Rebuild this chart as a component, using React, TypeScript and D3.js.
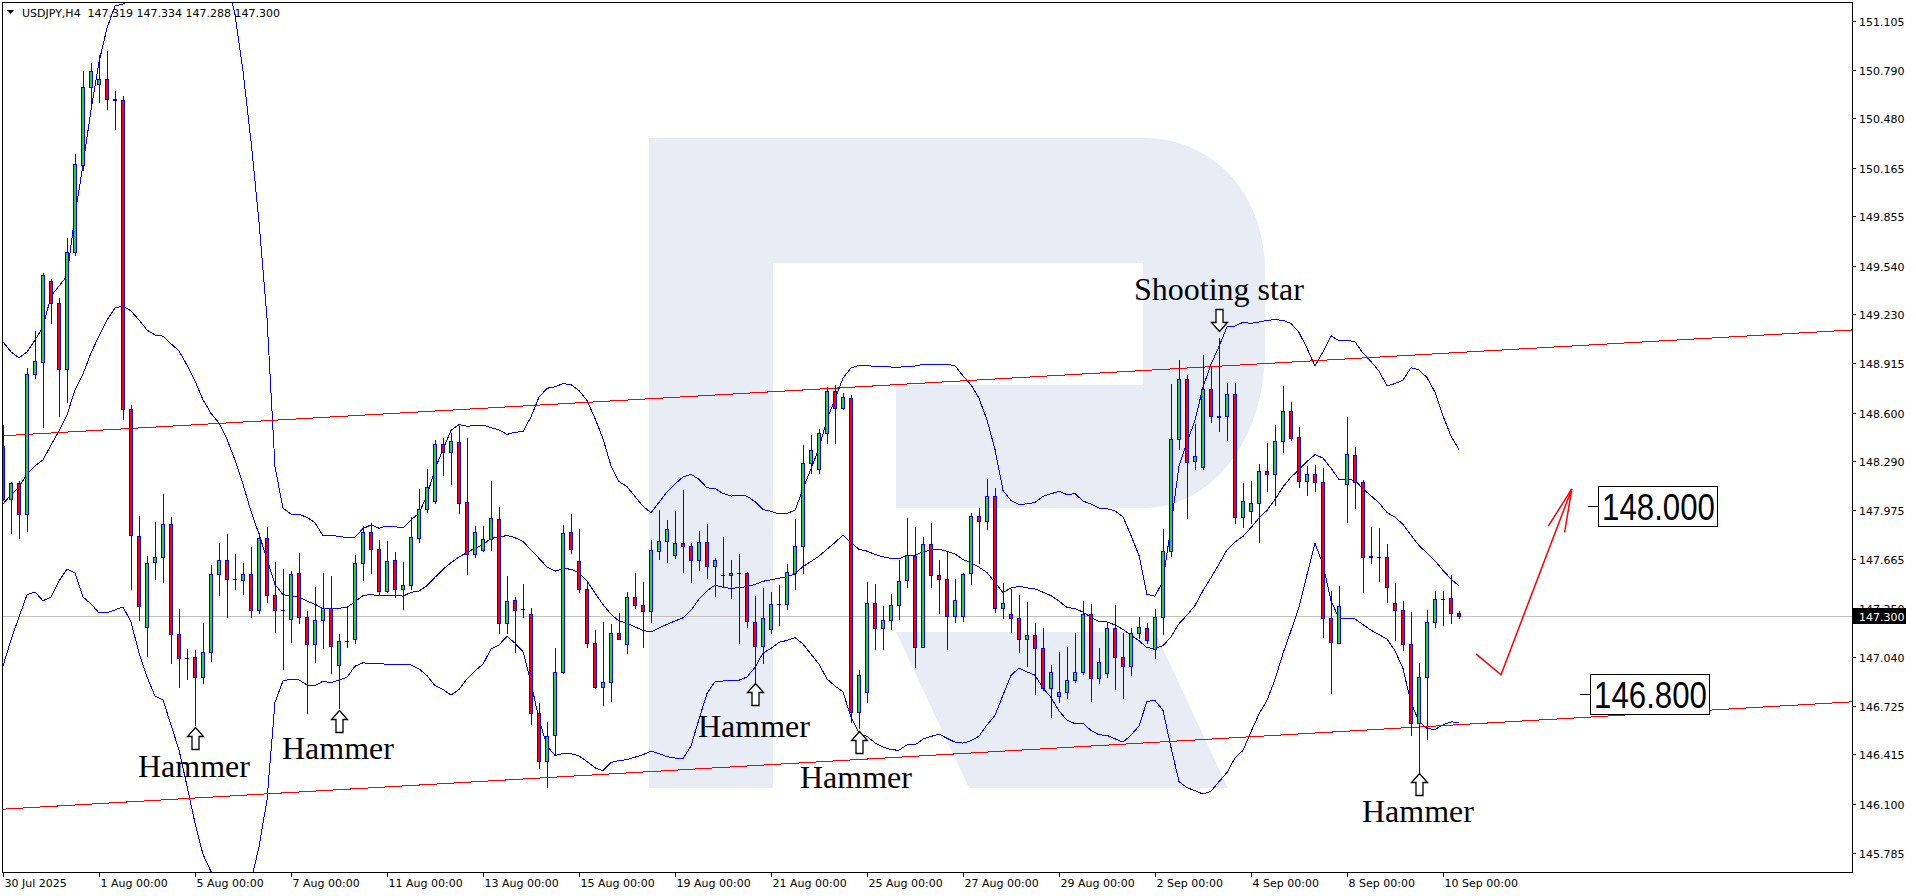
import React from 'react';
import * as d3 from 'd3';

const W = 1916;
const H = 896;

// ---------- DATA (USDJPY H4, bar 0 = 30 Jul 2025 00:00) ----------
const opens = [148.387,148.048,148.151,147.953,148.847,148.924,149.441,149.301,148.879,149.627,150.183,150.681,150.700,150.732,150.604,150.598,148.623,147.812,147.230,147.646,147.678,147.889,147.186,147.032,147.039,146.911,147.071,147.569,147.659,147.537,147.531,147.569,147.339,147.799,147.435,147.339,147.282,147.576,147.294,147.122,147.275,147.352,146.988,147.141,147.154,147.639,147.838,147.729,147.461,147.659,147.473,147.499,147.799,147.984,148.036,148.400,148.349,148.413,148.029,147.697,147.722,147.793,147.921,147.256,147.403,147.345,147.314,146.681,146.374,146.540,146.943,147.838,147.652,147.473,147.128,146.847,146.879,147.192,147.122,147.422,147.371,147.333,147.716,147.780,147.691,147.767,147.748,147.659,147.774,147.620,147.563,147.563,147.576,147.576,147.262,147.109,147.218,147.377,147.377,147.576,147.748,148.278,148.240,148.470,148.739,148.630,148.694,146.687,146.815,147.384,147.224,147.275,147.371,147.531,147.684,147.103,147.761,147.563,147.537,147.301,147.301,147.576,147.940,147.908,148.068,147.352,147.314,147.288,147.154,147.179,147.096,146.841,146.790,146.815,146.892,146.943,147.314,146.905,146.937,147.224,147.039,146.981,147.192,147.224,147.090,147.294,147.716,148.432,148.815,148.290,148.253,148.751,148.579,148.579,148.719,147.933,147.972,148.023,148.227,148.208,148.419,148.611,148.445,148.163,148.208,148.157,147.288,147.128,148.144,148.330,148.157,147.678,147.678,147.678,147.384,147.339,147.122,146.617,146.911,147.262,147.409,147.416,147.319];
const highs = [148.521,148.157,148.163,148.885,149.122,149.493,149.454,149.333,149.716,150.253,150.783,150.834,150.886,150.911,150.656,150.624,148.649,147.940,147.684,147.901,148.080,147.933,147.345,147.090,147.083,147.256,147.627,147.767,147.825,147.697,147.639,147.742,147.831,147.869,147.646,147.601,147.588,147.703,147.333,147.486,147.576,147.556,147.186,147.358,147.691,147.876,147.895,147.786,147.780,147.710,147.646,147.933,148.112,148.240,148.425,148.438,148.470,148.515,148.438,147.876,147.876,148.163,147.997,147.556,147.422,147.505,147.352,146.745,146.623,147.096,147.882,147.953,147.857,147.512,147.211,147.262,147.250,147.320,147.454,147.576,147.518,147.786,147.978,147.914,147.972,148.106,147.767,147.844,147.889,147.671,147.806,147.659,147.697,147.582,147.429,147.480,147.454,147.499,147.633,147.921,148.393,148.457,148.496,148.764,148.777,148.726,148.713,146.956,147.518,147.505,147.365,147.441,147.659,147.927,147.869,147.806,147.895,147.659,147.710,147.537,147.575,147.959,147.991,148.176,148.119,147.512,147.473,147.435,147.390,147.256,147.224,146.988,147.071,147.103,147.192,147.397,147.377,147.096,147.256,147.371,147.192,147.224,147.294,147.256,147.345,147.857,148.783,148.937,148.841,148.528,148.969,148.898,149.077,148.790,148.790,148.151,148.163,148.272,148.406,148.521,148.770,148.668,148.508,148.259,148.266,148.246,147.461,147.492,148.572,148.381,148.170,147.869,147.863,147.761,147.512,147.397,147.326,147.000,147.339,147.461,147.461,147.563,147.334];
const lows = [148.042,147.831,147.799,147.844,148.822,148.508,149.173,148.579,148.668,149.608,150.151,150.566,150.585,150.540,150.413,148.560,147.473,147.275,147.045,147.537,147.518,147.000,146.847,146.898,146.604,146.873,147.013,147.435,147.294,147.473,147.441,147.294,147.320,147.390,147.199,146.962,147.135,147.256,146.681,147.007,147.096,146.937,146.713,147.103,147.128,147.531,147.576,147.435,147.454,147.422,147.345,147.470,147.774,147.965,148.023,148.202,148.144,147.959,147.569,147.678,147.716,147.722,147.192,147.192,147.071,147.294,146.611,146.329,146.208,146.413,146.937,147.703,147.454,147.103,146.841,146.732,146.758,147.154,147.064,147.352,147.103,147.262,147.665,147.646,147.671,147.582,147.518,147.595,147.544,147.429,147.486,147.416,147.128,147.230,146.873,147.000,147.192,147.243,147.345,147.473,147.576,148.215,148.215,148.406,148.406,148.623,146.623,146.585,146.751,147.090,147.090,147.218,147.282,147.486,146.975,147.101,147.486,147.320,147.090,147.262,147.269,147.505,147.639,147.857,147.326,147.288,147.199,147.071,146.981,146.802,146.828,146.655,146.751,146.777,146.879,146.930,146.758,146.873,146.911,146.834,146.777,146.924,147.160,147.128,147.032,147.186,147.684,148.368,147.927,148.240,148.240,148.540,148.483,148.425,147.895,147.869,147.895,147.774,148.100,148.010,148.349,148.425,148.125,148.074,148.100,147.167,146.809,147.125,147.901,147.991,147.454,147.639,147.524,147.390,147.147,147.083,146.540,146.298,146.515,147.230,147.243,147.256,147.288];
const closes = [148.048,148.151,147.953,148.847,148.930,149.480,149.301,148.879,149.627,150.189,150.681,150.783,150.732,150.604,150.598,148.623,147.818,147.365,147.639,147.678,147.889,147.186,147.032,147.030,146.911,147.071,147.569,147.659,147.537,147.535,147.569,147.339,147.799,147.435,147.339,147.337,147.569,147.294,147.122,147.275,147.352,147.109,147.141,147.139,147.639,147.838,147.729,147.461,147.652,147.473,147.499,147.806,147.984,148.125,148.400,148.349,148.419,148.023,147.697,147.838,147.793,147.927,147.256,147.397,147.339,147.343,146.681,146.374,146.534,146.943,147.831,147.729,147.473,147.128,146.847,146.879,147.192,147.154,147.422,147.371,147.333,147.722,147.780,147.857,147.767,147.748,147.659,147.774,147.620,147.659,147.561,147.576,147.574,147.269,147.109,147.288,147.377,147.375,147.582,147.748,148.278,148.361,148.470,148.739,148.630,148.700,146.687,146.924,147.384,147.224,147.275,147.371,147.524,147.691,147.103,147.761,147.563,147.537,147.301,147.403,147.571,147.940,147.908,148.068,147.352,147.384,147.288,147.154,147.179,147.096,146.841,146.943,146.815,146.892,146.943,147.314,146.905,147.007,147.224,147.039,146.981,147.192,147.230,147.147,147.294,147.716,148.432,148.815,148.285,148.323,148.751,148.579,148.572,148.719,147.933,148.036,148.023,148.227,148.208,148.419,148.611,148.438,148.163,148.208,148.157,147.288,147.135,147.365,148.336,148.157,147.678,147.684,147.676,147.486,147.339,147.122,146.617,146.911,147.262,147.409,147.407,147.320,147.300];

// Bollinger band values for the first 19 bars (their 20-bar window starts before the visible data)
const bbUpperHead = [149.052,148.988,148.949,148.988,149.064,149.147,149.346,149.409,149.473,149.863,150.183,150.534,150.841,151.058,151.199,151.211,151.237,151.320,151.346];
const bbMidHead = [148.016,148.074,148.125,148.208,148.259,148.298,148.393,148.483,148.585,148.745,148.847,148.981,149.090,149.192,149.269,149.282,149.250,149.192,149.128];
const bbLowerHead = [146.981,147.147,147.294,147.435,147.454,147.397,147.422,147.524,147.601,147.576,147.422,147.377,147.320,147.320,147.339,147.358,147.262,147.064,146.911];
const bbPeriod = 20;
const bbDev = 2;

const yTickLabels = ['151.105','150.790','150.480','150.165','149.855','149.540','149.230','148.915','148.600','148.290','147.975','147.665','147.350','147.040','146.725','146.415','146.100','145.785'];
const xTickBars = [0,12,24,36,48,60,72,84,96,108,120,132,144,156,168,180];
const xTickLabels = ['30 Jul 2025','1 Aug 00:00','5 Aug 00:00','7 Aug 00:00','11 Aug 00:00','13 Aug 00:00','15 Aug 00:00','19 Aug 00:00','21 Aug 00:00','25 Aug 00:00','27 Aug 00:00','29 Aug 00:00','2 Sep 00:00','4 Sep 00:00','8 Sep 00:00','10 Sep 00:00'];

// channel lines: [bar, price] endpoints
const channelUpper = [[-0.375, 148.451], [231.1, 149.128]];
const channelLower = [[-0.375, 146.064], [231.1, 146.751]];

// pattern annotations
const patternNames = ['Hammer','Hammer','Hammer','Hammer','Hammer','Shooting star'];
const patternArrowBars = [24, 42, 94, 107, 177, 152];
const patternArrowPrices = [146.591, 146.700, 146.873, 146.566, 146.298, 149.122];
const patternArrowDir = ['up','up','up','up','up','down'];
const patternTextBars = [16.875, 34.875, 86.875, 99.625, 169.875, 141.375];
const patternTextPrices = [146.272, 146.387, 146.528, 146.202, 145.984, 149.320];

// forecast arrow path (bar, price)
const forecastBars = [184.125, 187.25, 196.1];
const forecastPrices = [147.058, 146.924, 148.112];

// target levels
const levelValues = [148.000, 146.800];
const levelLabels = ['148.000', '146.800'];
const levelBars = [198.125, 197.125];

const headerSymbol = 'USDJPY,H4';
const headerOHLC = ['147.319', '147.334', '147.288', '147.300'];
const lastPrice = 147.300;
const lastPriceLabel = '147.300';

// ---------- STYLES ----------
const BULL = '#32CD32';
const BEAR = '#FF0000';
const OUTLINE = '#0000FF';
const BAND = '#0000FF';
const CH = '#FF0000';
const AXIS_FONT = '"DejaVu Sans", Verdana, sans-serif';
const SERIF = '"Liberation Serif", "Times New Roman", serif';

const PL = 2, PT = 2, PR = 1852, PB = 872;

export default function App() {
  const x = d3.scaleLinear().domain([0, 182]).range([3, 1459]);
  const y = d3.scaleLinear().domain([145.785, 151.105]).range([853, 20.7]);

  const n = closes.length;
  const upper: number[] = [];
  const mid: number[] = [];
  const lower: number[] = [];
  for (let i = 0; i < n; i++) {
    if (i < bbPeriod - 1) {
      upper.push(bbUpperHead[i]);
      mid.push(bbMidHead[i]);
      lower.push(bbLowerHead[i]);
    } else {
      const win = closes.slice(i - bbPeriod + 1, i + 1);
      const m = d3.mean(win) as number;
      const sd = Math.sqrt(d3.mean(win.map((c) => (c - m) * (c - m))) as number);
      mid.push(m);
      upper.push(m + bbDev * sd);
      lower.push(m - bbDev * sd);
    }
  }
  const line = d3.line<number>().x((_, i) => x(i)).y((d) => y(d));

  const wm = 'M649,138 H1143 C1215,138 1265,195 1265,270 V350 C1265,440 1212,508 1143,508 H896 V385 H1143 V263 H773 V788 H649 Z M896,632 H1155 L1228,788 H969 Z';

  const arrowPath = (ax: number, ay: number, dir: string) => {
    const s = dir === 'up' ? 1 : -1;
    const p = [
      [0, 0], [8, 9], [3.5, 9], [3.5, 22], [-3.5, 22], [-3.5, 9], [-8, 9],
    ];
    return 'M' + p.map(([dx, dy]) => `${ax + dx},${ay + s * dy}`).join('L') + 'Z';
  };

  const fx = forecastBars.map((b) => x(b));
  const fy = forecastPrices.map((p) => y(p));
  const tipX = fx[2], tipY = fy[2];
  const ang = Math.atan2(fy[1] - tipY, fx[1] - tipX);
  const barb = (a: number) => `M${tipX},${tipY}L${tipX + 44 * Math.cos(ang + a)},${tipY + 44 * Math.sin(ang + a)}`;

  const lastY = y(lastPrice);

  return (
    <div style={{ position: 'absolute', left: 0, top: 0, width: W, height: H, background: '#fff' }}>
      <svg width={W} height={H} style={{ display: 'block' }}>
        <defs>
          <clipPath id="plot">
            <rect x={PL} y={PT} width={PR - PL} height={PB - PT} />
          </clipPath>
          <clipPath id="abovebox">
            <rect x={PR + 1} y={0} width={W - PR} height={Math.round(lastY) - 8} />
          </clipPath>
        </defs>
        <rect x={0} y={0} width={W} height={H} fill="#fff" />
        <g clipPath="url(#plot)">
          <path d={wm} fill="#E8EDF5" fillRule="evenodd" />
          <line x1={PL} x2={PR} y1={Math.round(lastY) + 0.5} y2={Math.round(lastY) + 0.5} stroke="#C0C0C0" strokeWidth={1} />
          <g shapeRendering="crispEdges">
            <path d={line(upper) || ''} fill="none" stroke={BAND} strokeWidth={1} />
            <path d={line(mid) || ''} fill="none" stroke={BAND} strokeWidth={1} />
            <path d={line(lower) || ''} fill="none" stroke={BAND} strokeWidth={1} />
            {[channelUpper, channelLower].map((c, k) => (
              <line key={k} x1={x(c[0][0])} y1={y(c[0][1])} x2={x(c[1][0])} y2={y(c[1][1])} stroke={CH} strokeWidth={1} />
            ))}
          </g>
          <g shapeRendering="crispEdges">
            {closes.map((c, i) => {
              const o = opens[i];
              const cx = Math.round(x(i));
              const top = Math.round(y(Math.max(o, c)));
              const bot = Math.round(y(Math.min(o, c)));
              const hy = Math.round(y(highs[i]));
              const ly = Math.round(y(lows[i]));
              const bull = c >= o;
              return (
                <g key={i}>
                  <line x1={cx + 0.5} x2={cx + 0.5} y1={hy} y2={ly + 1} stroke={OUTLINE} strokeWidth={1} />
                  {bot - top >= 1 ? (
                    <rect x={cx - 1.5} y={top + 0.5} width={3} height={bot - top} fill={bull ? BULL : BEAR} stroke={OUTLINE} strokeWidth={1} />
                  ) : (
                    <line x1={cx - 2} x2={cx + 2} y1={top + 0.5} y2={top + 0.5} stroke={OUTLINE} strokeWidth={1} />
                  )}
                </g>
              );
            })}
          </g>
          {patternNames.map((name, k) => {
            const ax = Math.round(x(patternArrowBars[k]));
            const ay = Math.round(y(patternArrowPrices[k]));
            return (
              <g key={'p' + k}>
                <path d={arrowPath(ax + 0.5, ay + 0.5, patternArrowDir[k])} fill="#fff" stroke="#000" strokeWidth={1.3} />
                <text x={x(patternTextBars[k])} y={y(patternTextPrices[k])} fontFamily={SERIF} fontSize={32} fill="#000">{name}</text>
              </g>
            );
          })}
          <path d={`M${fx[0]},${fy[0]}L${fx[1]},${fy[1]}L${fx[2]},${fy[2]}`} fill="none" stroke={CH} strokeWidth={1.5} />
          <path d={barb(0.2) + barb(-0.2)} fill="none" stroke={CH} strokeWidth={1.5} />
          {levelValues.map((v, k) => {
            const lx = x(levelBars[k]);
            const ly = Math.round(y(v)) + 0.5;
            return (
              <g key={'l' + k}>
                <line x1={lx} x2={lx + 10} y1={ly} y2={ly} stroke="#000" strokeWidth={1} />
                <rect x={Math.round(lx + 10) + 0.5} y={ly - 20} width={119} height={40} fill="#fff" stroke="#000" strokeWidth={1} />
                <text x={lx + 14} y={ly + 13.5} fontFamily='"Liberation Sans", Arial, sans-serif' fontSize={37} textLength={113} lengthAdjust="spacingAndGlyphs" fill="#000">{levelLabels[k]}</text>
              </g>
            );
          })}
        </g>
        {/* frame */}
        <rect x={PL + 0.5} y={PT + 0.5} width={PR - PL} height={PB - PT} fill="none" stroke="#000" strokeWidth={1} />
        {/* header */}
        <path d="M7,10 L14,10 L10.5,14 Z" fill="#000" />
        <text x={22} y={17} fontFamily={AXIS_FONT} fontSize={11} fill="#000" xmlSpace="preserve">
          {`${headerSymbol}  ${headerOHLC.join(' ')}`}
        </text>
        {/* y axis */}
        {yTickLabels.map((t) => {
          const ty = Math.round(y(+t)) + 0.5;
          const hidden = Math.abs(+t - lastPrice) < 0.1;
          return (
            <g key={t}>
              <line x1={PR} x2={PR + 4} y1={ty} y2={ty} stroke="#000" strokeWidth={1} />
              <text x={1859} y={ty + 4} fontFamily={AXIS_FONT} fontSize={11} fill="#000" clipPath={hidden ? 'url(#abovebox)' : undefined}>{t}</text>
            </g>
          );
        })}
        <rect x={1853} y={Math.round(lastY) - 8} width={53} height={16} fill="#000" />
        <text x={1859} y={Math.round(lastY) + 4.5} fontFamily={AXIS_FONT} fontSize={11} fill="#fff">{lastPriceLabel}</text>
        {/* x axis */}
        {xTickBars.map((b, k) => {
          const tx = Math.round(x(b)) + 0.5;
          return (
            <g key={'x' + k}>
              <line x1={tx} x2={tx} y1={PB} y2={PB + 5} stroke="#000" strokeWidth={1} />
              <text x={tx + 1} y={887} fontFamily={AXIS_FONT} fontSize={11} fill="#000">{xTickLabels[k]}</text>
            </g>
          );
        })}
      </svg>
    </div>
  );
}
